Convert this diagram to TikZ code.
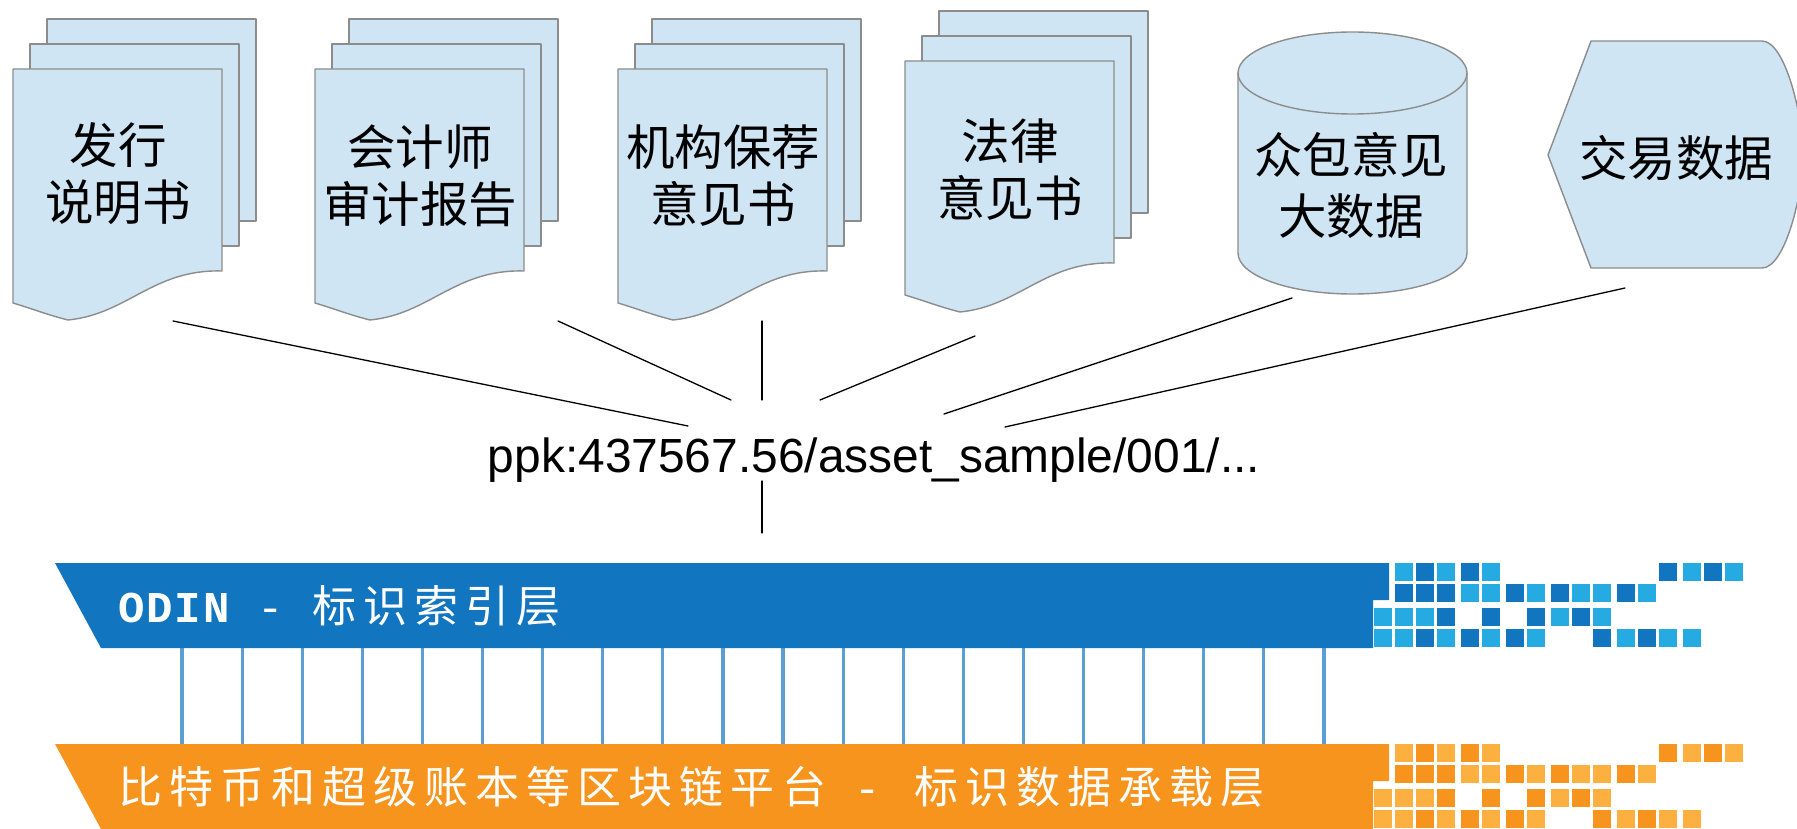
\documentclass[tikz,border=0pt]{standalone}
\usepackage{fontspec}
\setmainfont{Noto Sans CJK SC}
\newfontfamily\keyfont{Liberation Sans}
\newfontfamily\barfont[LetterSpace=16]{Noto Sans CJK SC}
\newfontfamily\barlatin[LetterSpace=4]{Liberation Mono}
\definecolor{pagefill}{HTML}{CFE5F3}
\definecolor{pageline}{HTML}{8C8C8C}
\definecolor{darkblue}{HTML}{1175BF}
\definecolor{lightblue}{HTML}{25AAE2}
\definecolor{darkorange}{HTML}{F7941E}
\definecolor{lightorange}{HTML}{FBB040}
\definecolor{tieblue}{HTML}{5A9FD4}
\tikzset{
	page/.style={draw=pageline,fill=pagefill,line width=1.4pt},
	doclabel/.style={align=center,font=\fontsize{48.5}{57}\selectfont},
	barlabel/.style={anchor=west,text=white,font=\fontsize{44}{50}\selectfont\barfont},
	link/.style={line width=1.3pt}
}
% one stack of three pages, #2 and #3 give the corner of the front page
\newcommand{\docstack}[5]{
	\begin{scope}[shift={(#2,#3)}]
		\draw[page] (34,-50) rectangle (243,152);
		\draw[page] (17,-25) rectangle (226,177);
		\draw[page] (0,0)--(209,0)--(209,202) .. controls (140,200) and (115,245) .. (55,251) .. controls (35,246) and (20,240) .. (0,234)--cycle;
		\node[doclabel] (#1) at (105,#4) {#5};
	\end{scope}
}
% the tiles beside a bar, #1 is the top of the first row
\newcommand{\tilegroup}[3]{
	\foreach \cx in {1416,1461,1659,1704} \fill[#2] (\cx,#1) rectangle ++(18,18);
	\foreach \cx in {1395,1437,1482,1683,1725} \fill[#3] (\cx,#1) rectangle ++(18,18);
	\foreach \cx in {1395,1416,1437,1506,1551,1617} \fill[#2] (\cx,#1+21) rectangle ++(18,18);
	\foreach \cx in {1461,1482,1527,1572,1593,1638} \fill[#3] (\cx,#1+21) rectangle ++(18,18);
	\foreach \cx in {1437,1482,1527,1572} \fill[#2] (\cx,#1+45) rectangle ++(18,18);
	\foreach \cx in {1374,1395,1416,1551,1593} \fill[#3] (\cx,#1+45) rectangle ++(18,18);
	\foreach \cx in {1416,1461,1506,1593,1638} \fill[#2] (\cx,#1+66) rectangle ++(18,18);
	\foreach \cx in {1374,1395,1437,1482,1527,1617,1659,1683} \fill[#3] (\cx,#1+66) rectangle ++(18,18);
}
\begin{document}
\begin{tikzpicture}[x=1pt,y=-1pt,line join=round,line cap=round]
	\useasboundingbox (0,0) rectangle (1797,829);
	\docstack{faxing}{13}{69}{105}{发行\\说明书}
	\docstack{shenji}{315}{69}{107}{会计师\\审计报告}
	\docstack{baojian}{618}{69}{107}{机构保荐\\意见书}
	\docstack{falv}{905}{61}{109}{法律\\意见书}
	% cylinder
	\draw[page] (1238,73) arc (180:360:114.5 and 41)--(1467,253) arc (0:180:114.5 and 41)--cycle;
	\draw[page] (1238,73) arc (180:0:114.5 and 41);
	\node[doclabel,font=\fontsize{48.5}{61}\selectfont] (zhongbao) at (1351,185) {众包意见\\大数据};
	% display shape, its right side runs off the page
	\draw[page] (1548,155)--(1591,41)--(1762,41) .. controls (1785,41) and (1803,115) .. (1803,155) .. controls (1803,195) and (1785,268) .. (1762,268)--(1591,268)--cycle;
	\node[doclabel] (jiaoyi) at (1676,158) {交易数据};
	\node[font=\fontsize{47.9}{50}\selectfont\keyfont] (ppk) at (874,460) {ppk:437567.56/asset\_sample/001/...};
	% free ends of the connectors
	\coordinate (faxingend) at (173,321);
	\coordinate (shenjiend) at (558,321);
	\coordinate (baojianend) at (762,321);
	\coordinate (falvend) at (975,336);
	\coordinate (zhongbaoend) at (1292,298);
	\coordinate (jiaoyiend) at (1625,288);
	\coordinate (ppka) at (688,426);
	\coordinate (ppkb) at (731,400);
	\coordinate (ppkc) at (762,400);
	\coordinate (ppkd) at (820,400);
	\coordinate (ppke) at (944,414);
	\coordinate (ppkf) at (1005,427);
	\coordinate (ppkdown) at (762,481);
	\coordinate (odintop) at (762,533);
	\foreach \a/\b in {faxingend/ppka,shenjiend/ppkb,baojianend/ppkc,falvend/ppkd,zhongbaoend/ppke,jiaoyiend/ppkf,ppkdown/odintop}
		\draw[link] (\a)--(\b);
	% ties between the two bars
	\foreach \i in {0,...,19}
		\draw[tieblue,line width=3.2pt,line cap=butt] (182+60.1*\i,648)--(182+60.1*\i,744);
	\fill[darkblue] (55,563)--(1389,563)--(1389,600)--(1373,600)--(1373,648)--(101,648)--cycle;
	\fill[darkorange] (55,744)--(1389,744)--(1389,781)--(1373,781)--(1373,829)--(101,829)--cycle;
	\tilegroup{563}{darkblue}{lightblue}
	\tilegroup{744}{darkorange}{lightorange}
	\node[barlabel] (odin) at (115,606) {{\bfseries\barlatin ODIN}{\barlatin{} - }标识索引层};
	\node[barlabel] (chain) at (115,787) {比特币和超级账本等区块链平台{\barlatin{} - }\hspace{6pt}标识数据承载层};
\end{tikzpicture}
\end{document}
